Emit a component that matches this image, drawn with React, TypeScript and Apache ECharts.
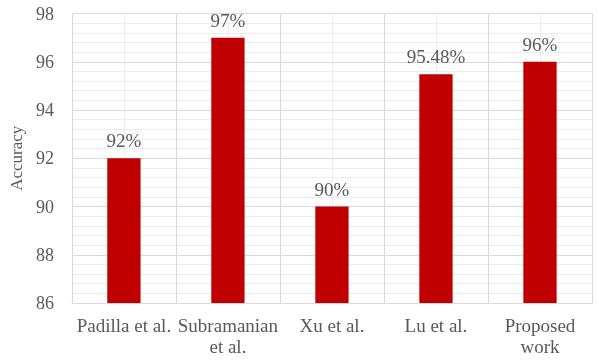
import React, { useEffect, useRef } from "react";
import * as echarts from "echarts";

const categories = ["Padilla et al.", "Subramanian\net al.", "Xu et al.", "Lu et al.", "Proposed\nwork"];
const accuracy = [92, 97, 90, 95.48, 96];
const yTicks = { min: 86, max: 98, interval: 2 };

const FONT = "Times New Roman, Liberation Serif, serif";
const TEXT = "#595959";

export default function App() {
  const ref = useRef<HTMLDivElement>(null);

  useEffect(() => {
    if (!ref.current) return;
    const chart = echarts.init(ref.current, undefined, { renderer: "svg" });
    chart.setOption({
      animation: false,
      textStyle: { fontFamily: FONT },
      grid: { left: 70, right: 5, top: 13.5, bottom: 57, containLabel: false },
      xAxis: [
        {
          type: "category",
          data: categories,
          axisLine: { show: true, lineStyle: { color: "#d9d9d9", width: 1 } },
          axisTick: { show: false },
          splitLine: { show: false },
          axisLabel: {
            color: TEXT,
            fontFamily: FONT,
            fontSize: 19,
            lineHeight: 21,
            margin: 12,
            interval: 0,
          },
        },
        {
          // half-category steps: boundaries (darker) and centres (lighter)
          type: "value",
          min: 0,
          max: 10,
          interval: 1,
          position: "top",
          axisLine: { show: false },
          axisTick: { show: false },
          axisLabel: { show: false },
          splitLine: { show: true, lineStyle: { color: ["#d9d9d9", "#ececec"], width: 1 } },
        },
      ],
      yAxis: {
        type: "value",
        min: yTicks.min,
        max: yTicks.max,
        interval: yTicks.interval,
        name: "Accuracy",
        nameLocation: "middle",
        nameGap: 30,
        nameTextStyle: { color: TEXT, fontFamily: FONT, fontSize: 17 },
        axisLine: { show: false },
        axisTick: { show: false },
        axisLabel: { color: TEXT, fontFamily: FONT, fontSize: 18, margin: 18 },
        splitLine: { show: true, lineStyle: { color: "#d9d9d9", width: 1 } },
        minorTick: { show: false, splitNumber: 5 },
        minorSplitLine: { show: true, lineStyle: { color: "#ececec", width: 1 } },
      },
      series: [
        {
          type: "bar",
          xAxisIndex: 0,
          data: accuracy,
          barWidth: "32%",
          itemStyle: { color: "#C00000" },
          label: {
            show: true,
            position: "top",
            distance: 8,
            color: TEXT,
            fontFamily: FONT,
            fontSize: 19,
            formatter: (p: any) => `${p.value}%`,
          },
        },
      ],
    });
    return () => chart.dispose();
  }, []);

  return (
    <div
      ref={ref}
      style={{ position: "fixed", left: 0, top: 0, width: 597, height: 360 }}
    />
  );
}
